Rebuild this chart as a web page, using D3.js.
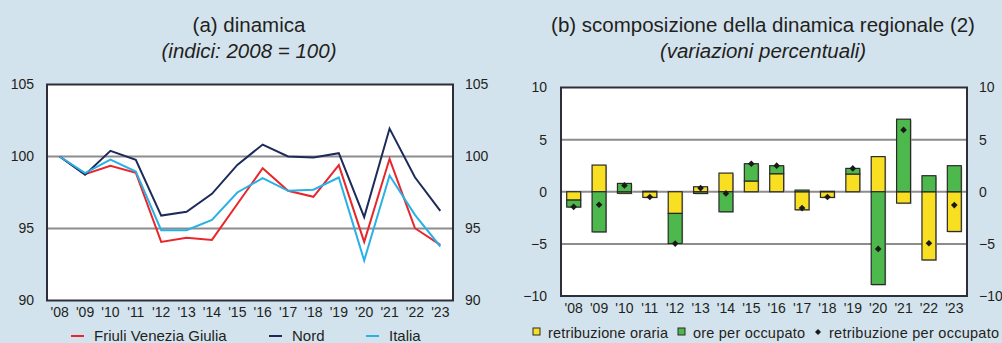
<!DOCTYPE html>
<html>
<head>
<meta charset="utf-8">
<script src="https://cdn.jsdelivr.net/npm/d3@7"></script>
<style>
  body { margin: 0; background: #d3e3ee; }
  svg { display: block; font-family: "Liberation Sans", Arial, sans-serif; }
</style>
</head>
<body>
<div id="chart"></div>
<script>
// data
var years = ["'08", "'09", "'10", "'11", "'12", "'13", "'14", "'15", "'16", "'17", "'18", "'19", "'20", "'21", "'22", "'23"];

var friuli = [100, 98.77, 99.35, 98.87, 94.07, 94.35, 94.21, 96.7, 99.19, 97.62, 97.2, 99.4, 94.07, 99.84, 95.02, 93.86];
var nord   = [100, 98.73, 100.39, 99.77, 95.9, 96.16, 97.41, 99.42, 100.83, 100, 99.93, 100.23, 95.79, 101.94, 98.56, 96.22];
var italia = [100, 98.84, 99.79, 98.96, 94.88, 94.88, 95.6, 97.5, 98.5, 97.62, 97.69, 98.54, 92.78, 98.68, 95.95, 93.75];

var retribOraria = [-0.8, 2.56, -0.15, -0.54, -2.08, 0.48, 1.79, 1.03, 1.73, -1.73, -0.54, 1.7, 3.37, -1.09, -6.54, -3.81];
var oreOccupato  = [-0.67, -3.85, 0.8, 0.05, -2.89, -0.16, -1.92, 1.66, 0.77, 0.16, 0.04, 0.54, -8.9, 6.96, 1.54, 2.5];
var retribOccup  = [-1.45, -1.25, 0.61, -0.5, -4.97, 0.35, -0.16, 2.69, 2.5, -1.57, -0.5, 2.24, -5.48, 5.93, -4.94, -1.28];

var leftTicks = [90, 95, 100, 105];
var rightTicks = [-10, -5, 0, 5, 10];

var svgWidth = 1002;
var svgHeight = 343;

var svg = d3.select("#chart")
  .append("svg")
  .attr("width", svgWidth)
  .attr("height", svgHeight);

svg.append("rect").attr("width", svgWidth).attr("height", svgHeight).attr("fill", "#d3e3ee");

var textColor = "#231f20";

// titles
function title(cx, line1, line2) {
  svg.append("text").attr("x", cx).attr("y", 32).attr("text-anchor", "middle")
    .attr("font-size", 20.5).attr("fill", textColor).text(line1);
  svg.append("text").attr("x", cx).attr("y", 58).attr("text-anchor", "middle")
    .attr("font-size", 20.5).attr("font-style", "italic").attr("fill", textColor).text(line2);
}
title(249, "(a) dinamica", "(indici: 2008 = 100)");
title(763, "(b) scomposizione della dinamica regionale (2)", "(variazioni percentuali)");

// ---------- left chart ----------
var L = { left: 47, right: 453, top: 84.5, bottom: 300.5 };

var xL = d3.scaleBand().domain(years).range([L.left, L.right]);
var yL = d3.scaleLinear().domain([90, 105]).range([L.bottom, L.top]);

var gL = svg.append("g");
gL.append("rect").attr("x", L.left).attr("y", L.top)
  .attr("width", L.right - L.left).attr("height", L.bottom - L.top).attr("fill", "#fff");

gL.selectAll(".grid").data([95, 100]).enter().append("line")
  .attr("x1", L.left).attr("x2", L.right)
  .attr("y1", d => yL(d)).attr("y2", d => yL(d))
  .attr("stroke", "#8c8c8c").attr("stroke-width", 2);

var lineL = d3.line()
  .x((d, i) => xL(years[i]) + xL.bandwidth() / 2)
  .y(d => yL(d));

var seriesL = [
  { name: "Friuli Venezia Giulia", values: friuli, color: "#e8262b" },
  { name: "Nord", values: nord, color: "#1d2b5b" },
  { name: "Italia", values: italia, color: "#27b1e6" }
];

seriesL.forEach(function(s) {
  gL.append("path").datum(s.values)
    .attr("d", lineL)
    .attr("fill", "none")
    .attr("stroke", s.color)
    .attr("stroke-width", 2)
    .attr("stroke-linejoin", "miter");
});

gL.append("rect").attr("x", L.left).attr("y", L.top)
  .attr("width", L.right - L.left).attr("height", L.bottom - L.top)
  .attr("fill", "none").attr("stroke", "#2e2e3a").attr("stroke-width", 2);

var axLeftL = d3.axisLeft(yL).tickValues(leftTicks).tickSize(0).tickPadding(13);
var axRightL = d3.axisRight(yL).tickValues(leftTicks).tickSize(0).tickPadding(12);
var axBottomL = d3.axisBottom(xL).tickSize(0).tickPadding(7);

function styleAxis(g) {
  g.select(".domain").remove();
  g.selectAll("text").attr("font-size", 14).attr("fill", textColor).attr("font-family", "Liberation Sans, Arial, sans-serif");
}

svg.append("g").attr("transform", `translate(${L.left},0)`).call(axLeftL).call(styleAxis);
svg.append("g").attr("transform", `translate(${L.right},0)`).call(axRightL).call(styleAxis);
svg.append("g").attr("transform", `translate(0,${L.bottom})`).call(axBottomL).call(styleAxis);

// left legend
var legL = svg.append("g");
var legLx = [71, 269, 366];
seriesL.forEach(function(s, i) {
  legL.append("line").attr("x1", legLx[i]).attr("x2", legLx[i] + 13)
    .attr("y1", 336).attr("y2", 336).attr("stroke", s.color).attr("stroke-width", 2);
  legL.append("text").attr("x", legLx[i] + 23).attr("y", 341)
    .attr("font-size", 15).attr("fill", textColor).text(s.name);
});

// ---------- right chart ----------
var R = { left: 561, right: 967, top: 87.5, bottom: 296 };

var xR = d3.scaleBand().domain(years).range([R.left, R.right]).paddingInner(0.45).paddingOuter(0.225);
var yR = d3.scaleLinear().domain([-10, 10]).range([R.bottom, R.top]);

var gR = svg.append("g");
gR.append("rect").attr("x", R.left).attr("y", R.top)
  .attr("width", R.right - R.left).attr("height", R.bottom - R.top).attr("fill", "#fff");

gR.selectAll(".grid").data([-5, 0, 5]).enter().append("line")
  .attr("x1", R.left).attr("x2", R.right)
  .attr("y1", d => yR(d)).attr("y2", d => yR(d))
  .attr("stroke", "#8c8c8c").attr("stroke-width", 2);

// stacked segments: positives stack up, negatives stack down
var segments = [];
years.forEach(function(yr, i) {
  var pos = 0, neg = 0;
  [{ v: retribOraria[i], c: "#f9df22" }, { v: oreOccupato[i], c: "#4db84b" }].forEach(function(p) {
    var y0, y1;
    if (p.v >= 0) { y0 = pos; y1 = pos + p.v; pos = y1; }
    else { y0 = neg; y1 = neg + p.v; neg = y1; }
    segments.push({ year: yr, y0: y0, y1: y1, color: p.c });
  });
});

// soft shadow
gR.selectAll(".shadow").data(segments).enter().append("rect")
  .attr("x", d => xR(d.year) + 1)
  .attr("y", d => Math.min(yR(d.y0), yR(d.y1)) + 1)
  .attr("width", xR.bandwidth())
  .attr("height", d => Math.abs(yR(d.y0) - yR(d.y1)))
  .attr("fill", "#b9b9b9");

gR.selectAll(".seg").data(segments).enter().append("rect")
  .attr("x", d => xR(d.year))
  .attr("y", d => Math.min(yR(d.y0), yR(d.y1)))
  .attr("width", xR.bandwidth())
  .attr("height", d => Math.abs(yR(d.y0) - yR(d.y1)))
  .attr("fill", d => d.color)
  .attr("stroke", "#2a2a2a")
  .attr("stroke-width", 1.2);

var diamond = d3.symbol().type(d3.symbolSquare).size(22);
gR.selectAll(".dot").data(retribOccup).enter().append("path")
  .attr("d", diamond)
  .attr("transform", (d, i) => `translate(${xR(years[i]) + xR.bandwidth() / 2},${yR(d)}) rotate(45)`)
  .attr("fill", "#1a1a1a");

gR.append("rect").attr("x", R.left).attr("y", R.top)
  .attr("width", R.right - R.left).attr("height", R.bottom - R.top)
  .attr("fill", "none").attr("stroke", "#2e2e3a").attr("stroke-width", 2);

var axLeftR = d3.axisLeft(yR).tickValues(rightTicks).tickSize(0).tickPadding(14);
var axRightR = d3.axisRight(yR).tickValues(rightTicks).tickSize(0).tickPadding(12);
var axBottomR = d3.axisBottom(xR).tickSize(0).tickPadding(7);

svg.append("g").attr("transform", `translate(${R.left},0)`).call(axLeftR).call(styleAxis);
svg.append("g").attr("transform", `translate(${R.right},0)`).call(axRightR).call(styleAxis);
svg.append("g").attr("transform", `translate(0,${R.bottom})`).call(axBottomR).call(styleAxis);

// right legend
var legR = svg.append("g");
legR.append("rect").attr("x", 533).attr("y", 328).attr("width", 7).attr("height", 7)
  .attr("fill", "#f9df22").attr("stroke", "#2a2a2a").attr("stroke-width", 1);
legR.append("text").attr("x", 548).attr("y", 338).attr("font-size", 14.5).attr("fill", textColor)
  .attr("textLength", 120).attr("lengthAdjust", "spacing").text("retribuzione oraria");
legR.append("rect").attr("x", 678).attr("y", 328).attr("width", 7).attr("height", 7)
  .attr("fill", "#4db84b").attr("stroke", "#2a2a2a").attr("stroke-width", 1);
legR.append("text").attr("x", 693).attr("y", 338).attr("font-size", 14.5).attr("fill", textColor)
  .attr("textLength", 112).attr("lengthAdjust", "spacing").text("ore per occupato");
legR.append("path").attr("d", d3.symbol().type(d3.symbolSquare).size(18))
  .attr("transform", "translate(818,332) rotate(45)").attr("fill", "#1a1a1a");
legR.append("text").attr("x", 829).attr("y", 338).attr("font-size", 14.5).attr("fill", textColor)
  .attr("textLength", 170).attr("lengthAdjust", "spacing").text("retribuzione per occupato");
</script>
</body>
</html>
